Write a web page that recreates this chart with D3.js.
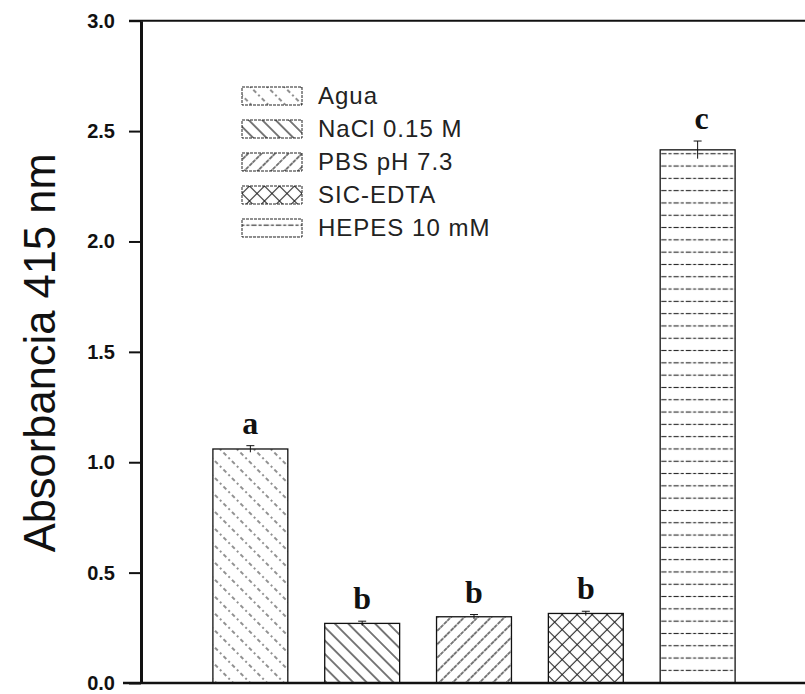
<!DOCTYPE html>
<html>
<head>
<meta charset="utf-8">
<script src="https://cdn.jsdelivr.net/npm/d3@7"></script>
<style>
    body { margin: 0; background: #fff; }
    svg { display: block; }
</style>
</head>
<body>
<svg id="chart"></svg>
<script>
const categories = ["Agua", "NaCl 0.15 M", "PBS pH 7.3", "SIC-EDTA", "HEPES 10 mM"];
const values = [1.06, 0.27, 0.30, 0.315, 2.415];
const errors = [0.015, 0.01, 0.01, 0.01, 0.04];
const letters = ["a", "b", "b", "b", "c"];
const yTicks = [0, 0.5, 1.0, 1.5, 2.0, 2.5, 3.0];
const yTitle = "Absorbancia 415 nm";

const width = 805;
const height = 694;
const svg = d3.select("#chart").attr("width", width).attr("height", height);

const margin = { top: 20.7, right: -2, bottom: 11, left: 141 };
const xScale = d3.scaleBand()
    .domain(categories)
    .range([margin.left, width - margin.right])
    .paddingInner(0.33)
    .paddingOuter(0.643);
const yScale = d3.scaleLinear().domain([0, 3]).range([height - margin.bottom, margin.top]);

const data = categories.map((c, i) => ({ cat: c, value: values[i], err: errors[i], letter: letters[i] }));

// hatch patterns, one per category
const defs = svg.append("defs");
function hatch(id, size, angle, dash, sw, cross) {
    const p = defs.append("pattern")
        .attr("id", id)
        .attr("patternUnits", "userSpaceOnUse")
        .attr("width", size).attr("height", size)
        .attr("patternTransform", `rotate(${angle})`);
    p.append("line")
        .attr("x1", size / 2).attr("y1", 0).attr("x2", size / 2).attr("y2", size)
        .attr("stroke", "#222").attr("stroke-width", sw)
        .attr("stroke-dasharray", dash);
    if (cross) {
        p.append("line")
            .attr("x1", 0).attr("y1", size / 2).attr("x2", size).attr("y2", size / 2)
            .attr("stroke", "#222").attr("stroke-width", sw)
            .attr("stroke-dasharray", dash);
    }
}
hatch("p0", 12, -45, "2,3", 1, false);
hatch("p1", 9.5, -45, "none", 1.2, false);
hatch("p2", 9.5, 45, "4,1", 1.2, false);
hatch("p3", 10.6, 45, "none", 1.1, true);
hatch("p4", 12.3, 90, "3,2", 1.1, false);
const patternOf = c => `url(#p${categories.indexOf(c)})`;

// frame lines at 3.0 and 0.0
svg.append("line")
    .attr("x1", margin.left - 12).attr("x2", width)
    .attr("y1", yScale(3)).attr("y2", yScale(3))
    .attr("stroke", "#111").attr("stroke-width", 2);
svg.append("line")
    .attr("x1", margin.left - 18).attr("x2", width)
    .attr("y1", yScale(0)).attr("y2", yScale(0))
    .attr("stroke", "#111").attr("stroke-width", 2.5);

// bars
svg.selectAll(".bar").data(data).join("rect")
    .attr("class", "bar")
    .attr("x", d => xScale(d.cat))
    .attr("width", xScale.bandwidth())
    .attr("y", d => yScale(d.value))
    .attr("height", d => yScale(0) - yScale(d.value))
    .attr("fill", d => patternOf(d.cat))
    .attr("stroke", "#111")
    .attr("stroke-width", 1.3);

// error bars
const eb = svg.selectAll(".err").data(data).join("g").attr("class", "err")
    .attr("stroke", "#111").attr("stroke-width", 1);
eb.append("line")
    .attr("x1", d => xScale(d.cat) + xScale.bandwidth() / 2)
    .attr("x2", d => xScale(d.cat) + xScale.bandwidth() / 2)
    .attr("y1", d => yScale(d.value - d.err))
    .attr("y2", d => yScale(d.value + d.err));
eb.append("line")
    .attr("x1", d => xScale(d.cat) + xScale.bandwidth() / 2 - 4)
    .attr("x2", d => xScale(d.cat) + xScale.bandwidth() / 2 + 4)
    .attr("y1", d => yScale(d.value + d.err))
    .attr("y2", d => yScale(d.value + d.err));

// significance letters
svg.selectAll(".sig").data(data).join("text")
    .attr("class", "sig")
    .attr("x", d => xScale(d.cat) + xScale.bandwidth() / 2 + (d.letter === "c" ? 4 : 0))
    .attr("y", d => yScale(d.value + d.err) - 12)
    .attr("text-anchor", "middle")
    .style("font-family", "'Liberation Serif', serif")
    .style("font-weight", "bold")
    .style("font-size", "32px")
    .attr("fill", "#111")
    .text(d => d.letter);

// y axis
const yAxis = svg.append("g")
    .attr("transform", `translate(${margin.left},0)`)
    .call(d3.axisLeft(yScale).tickValues(yTicks).tickSize(12).tickSizeOuter(0)
        .tickPadding(14).tickFormat(d3.format(".1f")));
yAxis.select(".domain").attr("stroke", "#111").attr("stroke-width", 3);
yAxis.selectAll(".tick line").attr("stroke", "#111").attr("stroke-width", 2);
yAxis.selectAll(".tick text")
    .style("font-family", "'Liberation Sans', Arial, sans-serif")
    .style("font-weight", "bold")
    .style("font-size", "20px")
    .attr("fill", "#111");

svg.append("text")
    .attr("transform", `translate(55,${(yScale(0) + yScale(3)) / 2 + 1}) rotate(-90)`)
    .attr("text-anchor", "middle")
    .style("font-family", "'Liberation Sans', Arial, sans-serif")
    .style("font-size", "43.5px")
    .attr("fill", "#111")
    .text(yTitle);

// legend
const legend = svg.append("g").attr("transform", "translate(242,87)");
const rows = legend.selectAll(".row").data(categories).join("g")
    .attr("class", "row")
    .attr("transform", (d, i) => `translate(0,${i * 33})`);
rows.append("rect")
    .attr("width", 60).attr("height", 18)
    .attr("fill", d => patternOf(d))
    .attr("stroke", "#222").attr("stroke-width", 1)
    .attr("stroke-dasharray", "3,1");
rows.append("text")
    .attr("x", 76).attr("y", 17)
    .style("font-family", "'Liberation Sans', Arial, sans-serif")
    .style("font-size", "24px")
    .style("letter-spacing", "1px")
    .attr("fill", "#222")
    .text(d => d);
</script>
</body>
</html>
